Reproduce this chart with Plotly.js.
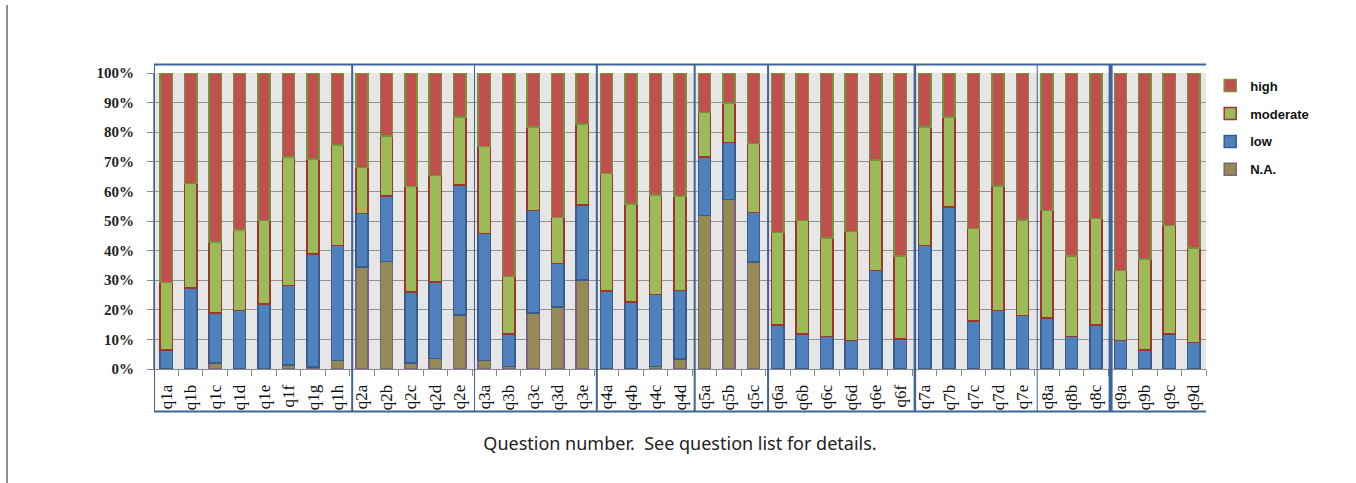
<!DOCTYPE html>
<html>
<head>
<meta charset="utf-8">
<script src="https://cdn.plot.ly/plotly-3.0.1.min.js"></script>
<style>
html,body{margin:0;padding:0;background:#fff;}
#chart{width:1356px;height:483px;position:relative;}
#leftline{position:absolute;left:6px;top:5px;width:2px;height:478px;background:#8f8f8f;z-index:10;}
</style>
</head>
<body>
<div id="leftline"></div>
<div id="chart"></div>
<script>
// Categories
const questions = ["q1a","q1b","q1c","q1d","q1e","q1f","q1g","q1h",
  "q2a","q2b","q2c","q2d","q2e",
  "q3a","q3b","q3c","q3d","q3e",
  "q4a","q4b","q4c","q4d",
  "q5a","q5b","q5c",
  "q6a","q6b","q6c","q6d","q6e","q6f",
  "q7a","q7b","q7c","q7d","q7e",
  "q8a","q8b","q8c",
  "q9a","q9b","q9c","q9d"];
// Group sizes (questions per group)
const groupSizes = [8,5,5,4,3,6,5,3,4];

// Series values (percent)
const naVals = [0,0,2.0,0,0,1.3,0.6,2.9,
  34.4,36.3,2.0,3.6,18.2,
  2.9,0.9,18.9,20.9,30.1,
  0,0,0.9,3.4,
  51.8,57.3,36.2,
  0,0,0,0,0,0,
  0,0,0,0,0,
  0,0,0,
  0,0,0,0];
const lowVals = [6.5,27.4,16.9,19.8,21.9,26.9,38.3,38.8,
  18.2,22.1,24.0,25.8,43.9,
  42.9,11.0,34.6,14.8,25.3,
  26.4,22.6,24.3,23.1,
  19.9,19.3,16.6,
  14.9,11.9,11.0,9.6,33.3,10.1,
  41.7,54.8,16.3,19.8,18.0,
  17.2,11.0,14.9,
  9.6,6.5,11.9,9.0];
const moderateVals = [22.7,35.3,24.0,27.2,28.2,43.5,32.0,33.9,
  15.5,20.3,35.6,35.9,23.1,
  29.3,19.3,28.3,15.5,27.3,
  39.7,33.1,33.6,31.9,
  14.9,13.3,23.4,
  31.2,38.2,33.2,36.9,37.3,28.1,
  40.1,30.4,31.2,42.0,32.3,
  36.3,27.2,36.0,
  23.7,30.6,36.5,31.8];
const highVals = [70.8,37.3,57.1,53.0,49.9,28.3,29.1,24.4,
  31.9,21.3,38.4,34.7,14.8,
  24.9,68.8,18.2,48.8,17.3,
  33.9,44.3,41.2,41.6,
  13.4,10.1,23.8,
  53.9,49.9,55.8,53.5,29.4,61.8,
  18.2,14.8,52.5,38.2,49.7,
  46.5,61.8,49.1,
  66.7,62.9,51.6,59.2];
const yTicks = [0,10,20,30,40,50,60,70,80,90,100];
const seriesNames = ["N.A.","low","moderate","high"];

const fills = ["#948A54","#4F81BD","#9BBB59","#C0504D"];
const borders = ["#7F6084","#385D8A","#A0342F","#77933C"];
const vals = [naVals, lowVals, moderateVals, highVals];

const traces = vals.map((v,i)=>({
  type:"bar", x:questions, y:v, name:seriesNames[i],
  legendgroup:"g"+i,
  legendrank: 1000 - i,
  marker:{color:fills[i], line:{color:borders[i], width:1.5}},
  hoverinfo:"x+y+name"
}));

// group boxes
const shapes = [];
const boxColor = "#3F6497";
const sepWidths = [2,1,2,2,2,2.5,1,4];
let start = 0;
const bounds = [];
groupSizes.forEach(s=>{ start += s; bounds.push(start - 0.5); });
shapes.push({type:"rect", xref:"x", yref:"paper", x0:-0.5, x1:questions.length-0.4,
  y0:-0.144, y1:1.029, line:{color:boxColor, width:2}, fillcolor:"rgba(0,0,0,0)", layer:"above"});
bounds.slice(0,-1).forEach((b,i)=>{
  shapes.push({type:"line", xref:"x", yref:"paper", x0:b+0.1, x1:b+0.1, y0:-0.144, y1:1.029,
    line:{color:boxColor, width:sepWidths[i]}, layer:"above"});
});

const layout = {
  width:1356, height:483,
  margin:{l:154, r:150, t:73, b:114, pad:0},
  paper_bgcolor:"#ffffff",
  plot_bgcolor:"#E6E6E6",
  barmode:"stack",
  bargap:0.5,
  showlegend:true,
  legend:{x:1.004, y:1.008, xanchor:"left", yanchor:"top", traceorder:"grouped",
    tracegroupgap:8, font:{family:"Liberation Sans, Arial", size:13, color:"#111", weight:"bold"},
    itemwidth:30, bgcolor:"rgba(0,0,0,0)"},
  xaxis:{type:"category", tickangle:-90, ticks:"outside", tickson:"boundaries", ticklen:6,
    tickcolor:"#8a8a8a", showline:true, linecolor:"#8a8a8a", linewidth:1, showgrid:false,
    tickfont:{family:"Liberation Serif, DejaVu Serif, serif", size:17, color:"#111"},
    ticklabelstandoff:8,
    range:[-0.5, questions.length-0.5],
    title:{text:"Question number.  See question list for details.", standoff:28,
      font:{family:"Noto Sans, Open Sans, sans-serif", size:18, color:"#222"}}},
  yaxis:{range:[0,100], tickvals:yTicks, ticktext:yTicks.map(t=>"<b>"+t+"%</b>"),
    ticks:"outside", ticklen:6, tickcolor:"#8a8a8a",
    showgrid:true, gridcolor:"#929292", gridwidth:1,
    showline:true, linecolor:"#8a8a8a", linewidth:1, zeroline:false,
    ticklabelstandoff:10,
    tickfont:{family:"Liberation Serif, DejaVu Serif, serif", size:15, color:"#222"}},
  shapes:shapes,
  font:{family:"Liberation Sans, Arial"}
};

Plotly.newPlot("chart", traces, layout, {displayModeBar:false, staticPlot:true});
</script>
</body>
</html>
